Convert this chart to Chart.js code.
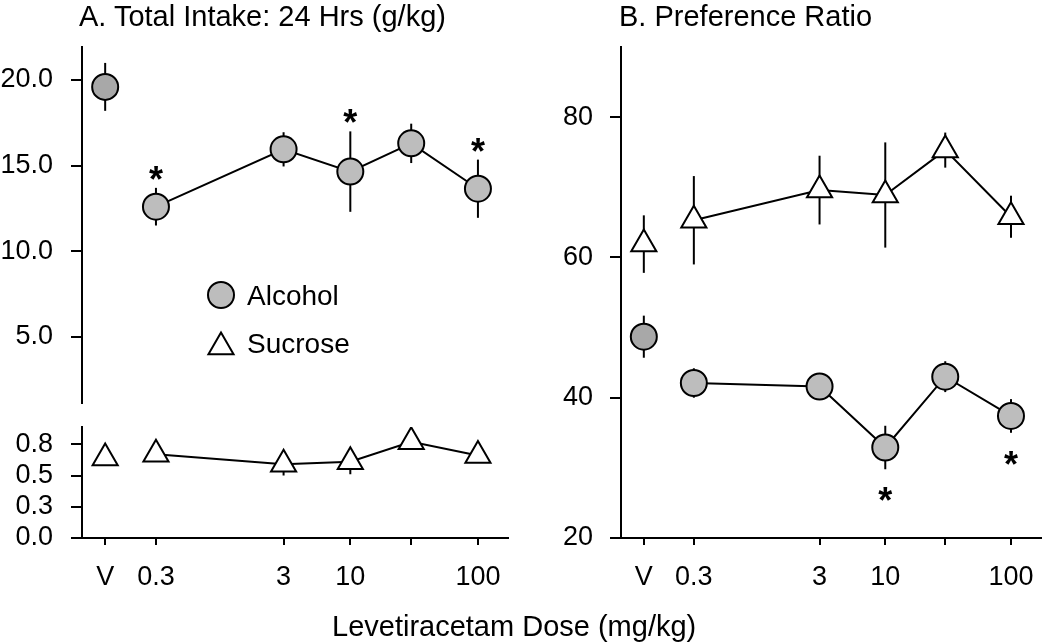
<!DOCTYPE html>
<html>
<head>
<meta charset="utf-8">
<title>Levetiracetam: intake and preference</title>
<script src="https://cdn.jsdelivr.net/npm/chart.js"></script>
<style>
  html, body { margin: 0; padding: 0; background: #fff; }
  body { width: 1050px; height: 642px; position: relative; overflow: hidden;
         font-family: 'Liberation Sans', Arial, sans-serif; color: #000; }
  .box { position: absolute; }
  .label { position: absolute; font-size: 29px; line-height: 29px; white-space: nowrap; }
</style>
</head>
<body>
<div class="box" style="left:0; top:0;"><canvas id="intakeTop" width="520" height="410"></canvas></div>
<div class="box" style="left:0; top:410px;"><canvas id="intakeBottom" width="520" height="232"></canvas></div>
<div class="box" style="left:520px; top:0;"><canvas id="preference" width="530" height="642"></canvas></div>
<div class="label" style="left:79px; top:2px;">A. Total Intake: 24 Hrs (g/kg)</div>
<div class="label" style="left:619px; top:2px;">B. Preference Ratio</div>
<div class="label" style="left:332px; top:612px;">Levetiracetam Dose (mg/kg)</div>
<script>
// doses (V = vehicle, drawn left of 0.3 on the log axis)
const doseTickLabels = ['V', '0.3', '3', '10', '', '100'];
const dosePositions = [0.12, 0.3, 3, 10, 30, 100];
const seriesNames = ['Alcohol', 'Sucrose'];

// A. total intake over 24 hrs (g/kg), mean and SEM
const alcoholIntake = [19.6, 12.6, 15.95, 14.65, 16.3, 13.65];
const alcoholIntakeErr = [1.4, 1.1, 1.0, 2.35, 1.15, 1.7];
const alcoholIntakeStars = [false, true, false, true, false, true];
const sucroseIntake = [0.64, 0.67, 0.59, 0.61, 0.77, 0.66];
const sucroseIntakeErr = [0.04, 0.06, 0.09, 0.1, 0.05, 0.04];

// B. preference ratio, mean and SEM
const sucrosePref = [61.9, 65.3, 69.6, 68.9, 75.3, 65.8];
const sucrosePrefErr = [4.1, 6.3, 4.9, 7.5, 2.5, 3.0];
const alcoholPref = [48.7, 42.1, 41.6, 32.9, 43.0, 37.4];
const alcoholPrefErr = [3.0, 2.1, 1.0, 3.1, 2.2, 2.4];
const alcoholPrefStars = [false, false, false, true, false, true];

// y tick values and labels
const intakeTopTicks = [5, 10, 15, 20];
const intakeTopTickLabels = ['5.0', '10.0', '15.0', '20.0'];
const intakeBottomTicks = [0, 0.25, 0.5, 0.75];
const intakeBottomTickLabels = ['0.0', '0.3', '0.5', '0.8'];
const prefTicks = [20, 40, 60, 80];
const prefTickLabels = ['20', '40', '60', '80'];

Chart.defaults.font.family = "'Liberation Sans', Arial, sans-serif";
Chart.defaults.color = '#000';

const tickFont = { size: 27 };

const alcoholStyle = {
  pointStyle: 'circle', pointRadius: 13, pointBackgroundColor: '#bdbdbd',
  vehicleColor: '#a8a8a8', pointBorderColor: '#000', pointBorderWidth: 2,
  borderColor: '#000', borderWidth: 2
};
const sucroseStyle = {
  pointStyle: 'triangle', pointRadius: 14.5, pointBackgroundColor: '#fff',
  vehicleColor: '#fff', pointBorderColor: '#000', pointBorderWidth: 2,
  borderColor: '#000', borderWidth: 2
};

function toPoints(values) {
  return values.map((y, i) => ({ x: dosePositions[i], y: y }));
}

// vehicle point stands alone, the doses are joined by a line
function seriesDatasets(name, values, errors, stars, style, starOffset) {
  const points = toPoints(values);
  const marks = stars || values.map(() => false);
  return [
    Object.assign({}, style, { label: name, data: points.slice(0, 1), errors: errors.slice(0, 1),
      stars: marks.slice(0, 1), starOffset: starOffset, pointBackgroundColor: style.vehicleColor, showLine: false }),
    Object.assign({}, style, { label: name, data: points.slice(1), errors: errors.slice(1),
      stars: marks.slice(1), starOffset: starOffset, showLine: true })
  ];
}

const errorBars = {
  id: 'errorBars',
  beforeDatasetsDraw(chart) {
    const ctx = chart.ctx;
    const y = chart.scales.y;
    ctx.save();
    ctx.strokeStyle = '#000';
    ctx.lineWidth = 2;
    chart.data.datasets.forEach((ds, i) => {
      if (!ds.errors) return;
      chart.getDatasetMeta(i).data.forEach((pt, j) => {
        const v = ds.data[j].y, e = ds.errors[j];
        ctx.beginPath();
        ctx.moveTo(pt.x, y.getPixelForValue(v + e));
        ctx.lineTo(pt.x, y.getPixelForValue(v - e));
        ctx.stroke();
      });
    });
    ctx.restore();
  },
  afterDatasetsDraw(chart) {
    const ctx = chart.ctx;
    const y = chart.scales.y;
    ctx.save();
    ctx.fillStyle = '#000';
    ctx.font = "bold 36px 'Liberation Sans', Arial, sans-serif";
    ctx.textAlign = 'center';
    ctx.textBaseline = 'alphabetic';
    chart.data.datasets.forEach((ds, i) => {
      if (!ds.stars) return;
      chart.getDatasetMeta(i).data.forEach((pt, j) => {
        if (!ds.stars[j]) return;
        const v = ds.data[j].y, e = ds.errors[j];
        // starOffset < 0: above the bar, > 0: below it
        const end = ds.starOffset < 0 ? y.getPixelForValue(v + e) : y.getPixelForValue(v - e);
        ctx.fillText('*', pt.x, end + ds.starOffset + 20);
      });
    });
    ctx.restore();
  }
};

function drawMarker(ctx, style, x, y, fill) {
  const r = style.pointRadius;
  ctx.beginPath();
  if (style.pointStyle === 'circle') {
    ctx.arc(x, y, r, 0, Math.PI * 2);
  } else {
    const hw = r * Math.sin(Math.PI / 3);
    ctx.moveTo(x, y - r);
    ctx.lineTo(x + hw, y + r / 2);
    ctx.lineTo(x - hw, y + r / 2);
    ctx.closePath();
  }
  ctx.fillStyle = fill;
  ctx.fill();
  ctx.lineWidth = style.pointBorderWidth;
  ctx.strokeStyle = '#000';
  ctx.stroke();
}

const intakeLegend = {
  id: 'intakeLegend',
  afterDraw(chart) {
    const ctx = chart.ctx;
    const styles = [alcoholStyle, sucroseStyle];
    const rows = [{ y: 295, base: 305 }, { y: 347, base: 353 }];
    ctx.save();
    styles.forEach((s, i) => {
      drawMarker(ctx, s, 221, rows[i].y, s.pointBackgroundColor);
      ctx.fillStyle = '#000';
      ctx.font = "28px 'Liberation Sans', Arial, sans-serif";
      ctx.textAlign = 'left';
      ctx.textBaseline = 'alphabetic';
      ctx.fillText(seriesNames[i], 247, rows[i].base);
    });
    ctx.restore();
  }
};

const axisGrid = { drawOnChartArea: false, color: '#000', lineWidth: 2 };
const axisBorder = { color: '#000', width: 2 };

function doseAxis(show) {
  return {
    type: 'logarithmic', min: 0.079, max: 172, bounds: 'data', display: show,
    afterBuildTicks: s => { s.ticks = dosePositions.map(v => ({ value: v })); },
    afterFit: s => { s.height = show ? 104 : 0; },
    ticks: { display: show, font: tickFont, padding: 16, autoSkip: false, maxRotation: 0,
             callback: (v, i) => doseTickLabels[i] },
    grid: Object.assign({ tickLength: 7 }, axisGrid),
    border: axisBorder
  };
}

function valueAxis(min, max, ticks, labels, width, pad) {
  return {
    type: 'linear', min: min, max: max, bounds: 'data',
    afterBuildTicks: s => { s.ticks = ticks.map(v => ({ value: v })); },
    // fixed width, and no extra room reserved for the end labels
    afterFit: s => { s.width = width; s.paddingTop = 0; s.paddingBottom = 0; },
    ticks: { font: tickFont, padding: pad, autoSkip: false, callback: (v, i) => labels[i] },
    grid: Object.assign({ tickLength: 11 }, axisGrid),
    border: axisBorder
  };
}

function baseOptions(padding, xAxis, yAxis) {
  return {
    responsive: false, animation: false, events: [],
    layout: { padding: padding, autoPadding: false },
    plugins: { legend: { display: false }, tooltip: { enabled: false } },
    scales: { x: xAxis, y: yAxis }
  };
}

new Chart(document.getElementById('intakeTop'), {
  type: 'scatter',
  data: { datasets: seriesDatasets('Alcohol', alcoholIntake, alcoholIntakeErr, alcoholIntakeStars, alcoholStyle, -16) },
  options: baseOptions({ top: 47, right: 12, bottom: 7, left: 0 }, doseAxis(false),
    valueAxis(1.13, 21.93, intakeTopTicks, intakeTopTickLabels, 82, 18)),
  plugins: [errorBars, intakeLegend]
});

new Chart(document.getElementById('intakeBottom'), {
  type: 'scatter',
  data: { datasets: seriesDatasets('Sucrose', sucroseIntake, sucroseIntakeErr, null, sucroseStyle, -16) },
  options: baseOptions({ top: 17, right: 12, bottom: 0, left: 0 }, doseAxis(true),
    valueAxis(0, 0.888, intakeBottomTicks, intakeBottomTickLabels, 82, 18)),
  plugins: [errorBars]
});

new Chart(document.getElementById('preference'), {
  type: 'scatter',
  data: { datasets: seriesDatasets('Sucrose', sucrosePref, sucrosePrefErr, null, sucroseStyle, 24)
    .concat(seriesDatasets('Alcohol', alcoholPref, alcoholPrefErr, alcoholPrefStars, alcoholStyle, 24)) },
  options: baseOptions({ top: 47, right: 7, bottom: 0, left: 0 }, doseAxis(true),
    valueAxis(20, 90, prefTicks, prefTickLabels, 101, 17)),
  plugins: [errorBars]
});
</script>
</body>
</html>
